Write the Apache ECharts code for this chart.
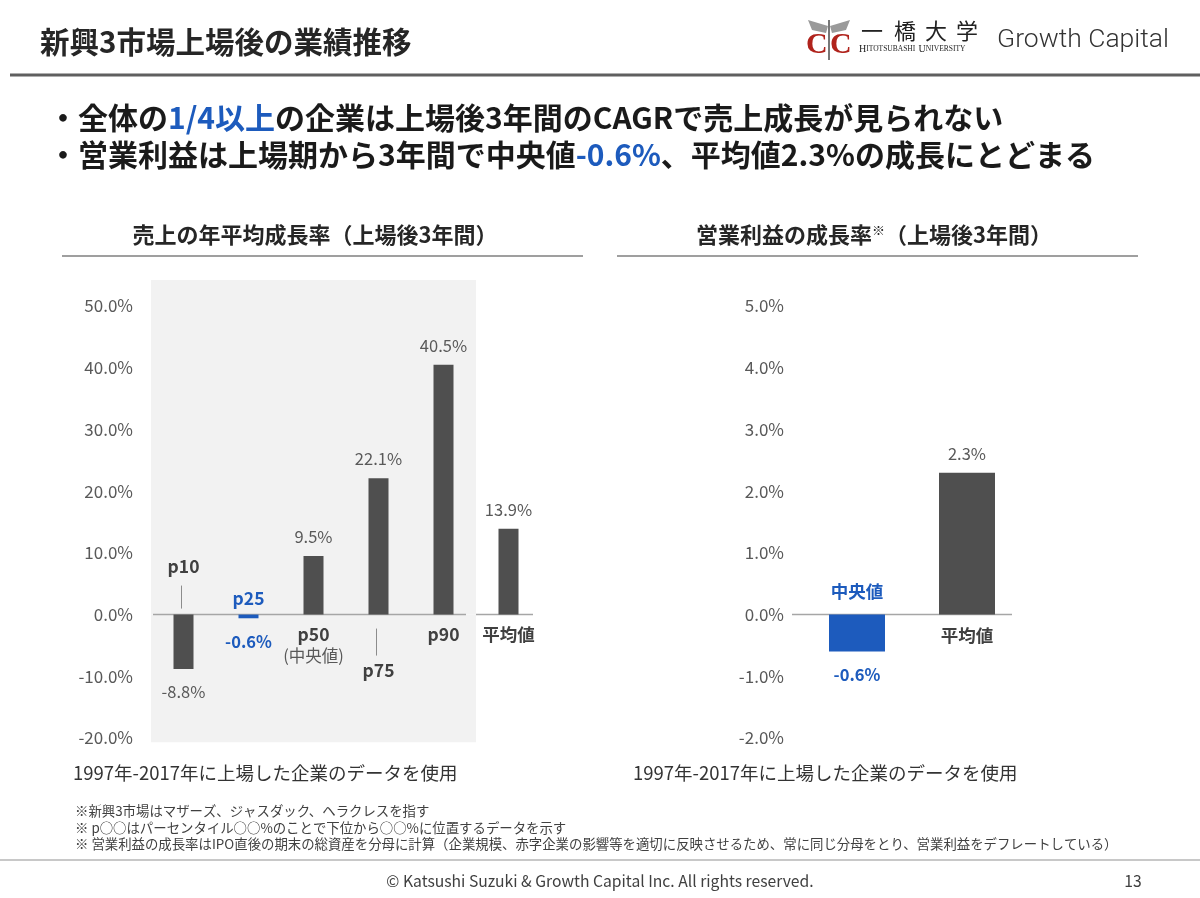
<!DOCTYPE html>
<html>
<head>
<meta charset="utf-8">
<title>新興3市場上場後の業績推移</title>
<script src="https://cdn.jsdelivr.net/npm/echarts@6/dist/echarts.min.js"></script>
<style>
  html, body { margin: 0; padding: 0; background: #fff; }
  #main { width: 1200px; height: 898px; }
</style>
</head>
<body>
<div id="main"></div>
<script>
// ---- data ----
var salesCats = ['p10', 'p25', 'p50', 'p75', 'p90', '平均値'];
var salesGrowth = [-8.8, -0.6, 9.5, 22.1, 40.5, 13.9];   // 売上CAGR (%)
var salesTicks = [-20, -10, 0, 10, 20, 30, 40, 50];
var salesPanelCats = ['p10', 'p25', 'p50', 'p75', 'p90']; // 灰色の背景

var profitCats = ['中央値', '平均値'];
var profitGrowth = [-0.6, 2.3];                           // 営業利益成長率 (%)
var profitTicks = [-2, -1, 0, 1, 2, 3, 4, 5];

var highlightCats = ['p25', '中央値'];

// ---- styles ----
var FONT = '"Noto Sans CJK JP", "Noto Sans", sans-serif';
var BLUE = '#1d5bbd';
var BAR = '#4f4f4f';
var GRAY_TXT = '#595959';
var DARK_TXT = '#404040';

// カテゴリ名の置き方 (ゼロ線からのずれ, px)
var salesLabelLayout = {
  'p10':  { dy: -48, leader: [-29, -6], seg: [2, 0] },
  'p25':  { dy: -16, seg: [0, 0] },
  'p50':  { dy: 20, sub: '(中央値)', subDy: 41, seg: [0, 0] },
  'p75':  { dy: 56, leader: [14, 41], seg: [0, 0] },
  'p90':  { dy: 20, seg: [0, -10] },
  '平均値': { dy: 20, seg: [0, -8] }
};
var profitLabelLayout = {
  '中央値': { dy: -23, seg: [-10, -10] },
  '平均値': { dy: 21, seg: [-10, -10] }
};

function pct(v) { return v.toFixed(1) + '%'; }

function barItems(cats, vals) {
  return vals.map(function (v, i) {
    var hl = highlightCats.indexOf(cats[i]) >= 0;
    return {
      value: v,
      itemStyle: { color: hl ? BLUE : BAR },
      label: {
        position: v < 0 ? 'bottom' : 'top',
        distance: v < 0 ? 15 : 11,
        color: hl ? BLUE : GRAY_TXT,
        fontWeight: hl ? 'bold' : 'normal'
      }
    };
  });
}

function labelRenderer(cats, layout) {
  return function (params, api) {
    var idx = api.value(0);
    var cat = cats[idx];
    var cfg = layout[cat];
    var pt = api.coord([idx, 0]);
    var bw = api.size([1, 0])[0];
    var hl = highlightCats.indexOf(cat) >= 0;
    var children = [{
      type: 'line',
      shape: { x1: pt[0] - bw / 2 + cfg.seg[0], y1: pt[1], x2: pt[0] + bw / 2 + cfg.seg[1], y2: pt[1] },
      style: { stroke: '#a6a6a6', lineWidth: 1.5 }
    }, {
      type: 'text',
      style: {
        text: cat, x: pt[0], y: pt[1] + cfg.dy,
        align: 'center', verticalAlign: 'middle',
        textAlign: 'center', textVerticalAlign: 'middle',
        fill: hl ? BLUE : DARK_TXT, fontSize: 17.5, fontWeight: 'bold', fontFamily: FONT
      }
    }];
    if (cfg.sub) {
      children.push({
        type: 'text',
        style: {
          text: cfg.sub, x: pt[0], y: pt[1] + cfg.subDy,
          align: 'center', verticalAlign: 'middle',
          textAlign: 'center', textVerticalAlign: 'middle',
          fill: GRAY_TXT, fontSize: 16.5, fontFamily: FONT
        }
      });
    }
    if (cfg.leader) {
      children.push({
        type: 'line',
        shape: { x1: pt[0] - 2, y1: pt[1] + cfg.leader[0], x2: pt[0] - 2, y2: pt[1] + cfg.leader[1] },
        style: { stroke: '#8c8c8c', lineWidth: 1 }
      });
    }
    return { type: 'group', children: children };
  };
}

function yAxisOf(grid, ticks) {
  return {
    type: 'value', gridIndex: grid,
    min: ticks[0], max: ticks[ticks.length - 1], interval: ticks[1] - ticks[0],
    axisLine: { show: false }, axisTick: { show: false }, splitLine: { show: false },
    axisLabel: { color: GRAY_TXT, fontSize: 17, fontFamily: FONT, margin: 18, formatter: pct }
  };
}

function text(x, y, str, size, extra) {
  var st = {
    text: str, fontSize: size, fontFamily: FONT, fill: '#262626',
    align: 'left', verticalAlign: 'middle', textAlign: 'left', textVerticalAlign: 'middle'
  };
  for (var k in extra) st[k] = extra[k];
  if (extra && extra.align) st.textAlign = extra.align;
  return { type: 'text', x: x, y: y, silent: true, style: st };
}

function hline(x1, x2, y, color, w) {
  return { type: 'line', silent: true, shape: { x1: x1, y1: y, x2: x2, y2: y }, style: { stroke: color, lineWidth: w } };
}

var panelTop = 54.2, panelBottom = -20.7;
var panelHi = salesCats.map(function (c) { return salesPanelCats.indexOf(c) >= 0 ? panelTop : '-'; });
var panelLo = salesCats.map(function (c) { return salesPanelCats.indexOf(c) >= 0 ? panelBottom : '-'; });

var blueRich = { fill: BLUE, fontSize: 30, fontWeight: 'bold', fontFamily: FONT };
var subRich = {
  m: { fontSize: 22, fontWeight: 'bold', fontFamily: FONT, fill: '#262626' },
  n: { fontSize: 13, fontWeight: 'bold', fontFamily: FONT, fill: '#262626', verticalAlign: 'top', padding: [0, 0, 8, 0] }
};

var graphics = [
  text(40, 42, '新興3市場上場後の業績推移', 29.5, { fontWeight: 'bold' }),
  hline(10, 1200, 75, '#5f5f5f', 3),
  // ロゴ
  { type: 'polygon', silent: true, shape: { points: [[828, 26], [808, 20], [812, 30], [826, 33]] }, style: { fill: '#9a9a9a' } },
  { type: 'polygon', silent: true, shape: { points: [[830, 26], [850, 20], [846, 30], [832, 33]] }, style: { fill: '#9a9a9a' } },
  { type: 'line', silent: true, shape: { x1: 829, y1: 20, x2: 829, y2: 60 }, style: { stroke: '#777', lineWidth: 2 } },
  text(806, 45, 'C', 30, { fontFamily: '"Liberation Serif", serif', fontWeight: 'bold', fill: '#b0231c' }),
  text(830, 45, 'C', 30, { fontFamily: '"Liberation Serif", serif', fontWeight: 'bold', fill: '#b0231c' }),
  text(872, 31, '一', 22, { align: 'center', fill: '#222' }),
  text(905, 31, '橋', 22, { align: 'center', fill: '#222' }),
  text(936, 31, '大', 22, { align: 'center', fill: '#222' }),
  text(967, 31, '学', 22, { align: 'center', fill: '#222' }),
  { type: 'text', x: 859, y: 49, silent: true, style: {
      text: '{c|H}{s|ITOTSUBASHI} {c|U}{s|NIVERSITY}', verticalAlign: 'middle', textVerticalAlign: 'middle',
      rich: {
        c: { fontSize: 10, fontFamily: '"Liberation Serif", serif', fill: '#222' },
        s: { fontSize: 7.5, fontFamily: '"Liberation Serif", serif', fill: '#222' }
      } } },
  text(997, 40, 'Growth Capital', 26.5, { fontFamily: 'Roboto, "Liberation Sans", sans-serif', fontWeight: 300, fill: '#333' }),
  // 要点
  { type: 'text', x: 48, y: 118, silent: true, style: {
      text: '・全体の{b|1/4以上}の企業は上場後3年間のCAGRで売上成長が見られない',
      fontSize: 30, fontWeight: 'bold', fontFamily: FONT, fill: '#1a1a1a',
      verticalAlign: 'middle', textVerticalAlign: 'middle', rich: { b: blueRich } } },
  { type: 'text', x: 48, y: 155, silent: true, style: {
      text: '・営業利益は上場期から3年間で中央値{b|-0.6%}、平均値2.3%の成長にとどまる',
      fontSize: 30, fontWeight: 'bold', fontFamily: FONT, fill: '#1a1a1a',
      verticalAlign: 'middle', textVerticalAlign: 'middle', rich: { b: blueRich } } },
  // 小見出し
  text(315, 235, '売上の年平均成長率（上場後3年間）', 22, { align: 'center', fontWeight: 'bold' }),
  hline(62, 583, 256, '#7f7f7f', 1.5),
  { type: 'text', x: 874, y: 235, silent: true, style: {
      text: '{m|営業利益の成長率}{n|※}{m|（上場後3年間）}',
      align: 'center', verticalAlign: 'middle', textAlign: 'center', textVerticalAlign: 'middle',
      rich: subRich } },
  hline(617, 1138, 256, '#7f7f7f', 1.5),
  text(73, 773, '1997年-2017年に上場した企業のデータを使用', 18.5, { fill: '#333' }),
  text(633, 773, '1997年-2017年に上場した企業のデータを使用', 18.5, { fill: '#333' }),
  // 注記
  text(75, 811, '※新興3市場はマザーズ、ジャスダック、ヘラクレスを指す', 13.4, { fill: DARK_TXT }),
  text(75, 828, '※ p○○はパーセンタイル○○%のことで下位から○○%に位置するデータを示す', 13.4, { fill: DARK_TXT }),
  text(75, 844, '※ 営業利益の成長率はIPO直後の期末の総資産を分母に計算（企業規模、赤字企業の影響等を適切に反映させるため、常に同じ分母をとり、営業利益をデフレートしている）', 13.4, { fill: DARK_TXT }),
  hline(0, 1200, 860, '#c8c8c8', 2),
  text(600, 881, '© Katsushi Suzuki & Growth Capital Inc. All rights reserved.', 15.7, { align: 'center', fill: DARK_TXT }),
  text(1133, 881, '13', 15.7, { align: 'center', fill: DARK_TXT })
];

var chart = echarts.init(document.getElementById('main'), null, { renderer: 'canvas' });

var option = {
  animation: false,
  backgroundColor: '#fff',
  textStyle: { fontFamily: FONT },
  grid: [
    { left: 151, top: 306, width: 390, height: 432 },
    { left: 802, top: 306, width: 220, height: 432 }
  ],
  xAxis: [
    { type: 'category', gridIndex: 0, data: salesCats, axisLine: { show: false }, axisTick: { show: false }, axisLabel: { show: false } },
    { type: 'category', gridIndex: 0, data: salesCats, show: false },
    { type: 'category', gridIndex: 1, data: profitCats, axisLine: { show: false }, axisTick: { show: false }, axisLabel: { show: false } }
  ],
  yAxis: [yAxisOf(0, salesTicks), yAxisOf(1, profitTicks)],
  series: [
    { type: 'bar', xAxisIndex: 1, yAxisIndex: 0, stack: 'panel', data: panelHi, barWidth: '100%',
      clip: false, silent: true, z: 1, itemStyle: { color: '#f2f2f2' } },
    { type: 'bar', xAxisIndex: 1, yAxisIndex: 0, stack: 'panel', data: panelLo, barWidth: '100%',
      clip: false, silent: true, z: 1, itemStyle: { color: '#f2f2f2' } },
    { type: 'custom', xAxisIndex: 0, yAxisIndex: 0, z: 2, silent: true, clip: false,
      data: salesCats.map(function (c, i) { return [i, 0]; }),
      renderItem: labelRenderer(salesCats, salesLabelLayout) },
    { type: 'bar', xAxisIndex: 0, yAxisIndex: 0, z: 3, barWidth: 20,
      data: barItems(salesCats, salesGrowth),
      label: { show: true, fontSize: 16.5, fontFamily: FONT, formatter: function (p) { return pct(p.value); } } },
    { type: 'custom', xAxisIndex: 2, yAxisIndex: 1, z: 2, silent: true, clip: false,
      data: profitCats.map(function (c, i) { return [i, 0]; }),
      renderItem: labelRenderer(profitCats, profitLabelLayout) },
    { type: 'bar', xAxisIndex: 2, yAxisIndex: 1, z: 3, barWidth: 56,
      data: barItems(profitCats, profitGrowth),
      label: { show: true, fontSize: 16.5, fontFamily: FONT, formatter: function (p) { return pct(p.value); } } }
  ],
  graphic: graphics
};

chart.setOption(option);
window.addEventListener('resize', function () { chart.resize(); });
</script>
</body>
</html>
